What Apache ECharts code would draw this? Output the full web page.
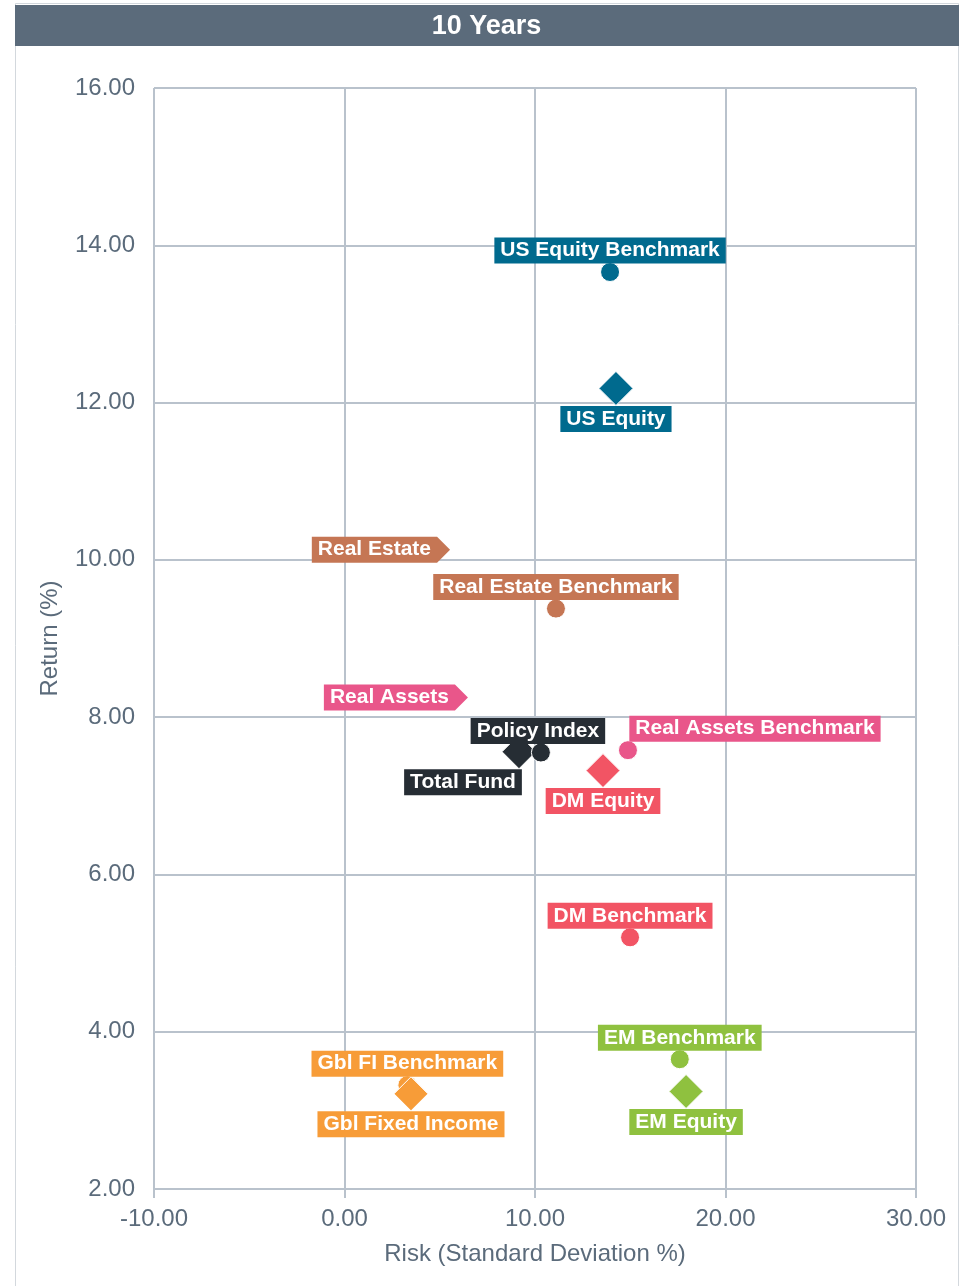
<!DOCTYPE html>
<html>
<head>
<meta charset="utf-8">
<script src="https://cdn.jsdelivr.net/npm/echarts@6/dist/echarts.min.js"></script>
<style>
html,body{margin:0;padding:0;background:#fff;}
#chart{width:961px;height:1286px;}
</style>
</head>
<body>
<div id="chart"></div>
<script>
// ---- data ----
const chartTitle = '10 Years';
const xAxisName = 'Risk (Standard Deviation %)';
const yAxisName = 'Return (%)';

const benchNames  = ['US Equity Benchmark', 'Real Estate Benchmark', 'Real Assets Benchmark', 'DM Benchmark', 'EM Benchmark', 'Gbl FI Benchmark', 'Policy Index'];
const benchRisk   = [13.94, 11.10, 14.88, 14.99, 17.60, 3.30, 10.31];
const benchReturn = [13.66, 9.38, 7.58, 5.20, 3.65, 3.32, 7.55];

const fundNames   = ['US Equity', 'Total Fund', 'DM Equity', 'EM Equity', 'Gbl Fixed Income'];
const fundRisk    = [14.25, 9.16, 13.57, 17.93, 3.49];
const fundReturn  = [12.18, 7.56, 7.32, 3.24, 3.21];

const arrowNames  = ['Real Estate', 'Real Assets'];
const arrowRisk   = [5.54, 6.48];
const arrowReturn = [10.13, 8.25];

// ---- styles ----
const C = {
  us: '#006a8e', re: '#c57654', ra: '#e9568a', dark: '#262d34',
  dm: '#f25464', em: '#8fc13f', gbl: '#f79c38'
};
const colorOf = {
  'US Equity Benchmark': C.us, 'US Equity': C.us,
  'Real Estate Benchmark': C.re, 'Real Estate': C.re,
  'Real Assets Benchmark': C.ra, 'Real Assets': C.ra,
  'Policy Index': C.dark, 'Total Fund': C.dark,
  'DM Benchmark': C.dm, 'DM Equity': C.dm,
  'EM Benchmark': C.em, 'EM Equity': C.em,
  'Gbl FI Benchmark': C.gbl, 'Gbl Fixed Income': C.gbl
};
const labelShift = {
  'Total Fund': -56,
  'Real Assets Benchmark': 127,
  'Policy Index': -3
};
const slate = '#5b6b7b';
const gridColor = '#b9c2cc';
const LBL_FONT = 'Liberation Sans, Arial, sans-serif';

// draw order: funds/benchmarks interleaved so overlaps match
const pts = [];
function addBench(i){
  pts.push({name: benchNames[i], value: [benchRisk[i], benchReturn[i]], kind: 'bench'});
}
function addFund(i){
  pts.push({name: fundNames[i], value: [fundRisk[i], fundReturn[i]], kind: 'fund'});
}
addBench(0); addFund(0); addBench(1); addBench(2); addFund(2); addBench(3);
addBench(4); addFund(3); addBench(5); addFund(4); addFund(1); addBench(6);

const scatterData = pts.map(p => {
  const col = colorOf[p.name];
  const isBench = p.kind === 'bench';
  return {
    name: p.name,
    value: p.value,
    symbol: isBench ? 'circle' : 'diamond',
    symbolSize: isBench ? 19 : 34,
    itemStyle: {color: col, borderColor: '#fff', borderWidth: 1, opacity: 1},
    label: {
      show: true,
      position: isBench ? 'top' : 'bottom',
      distance: isBench ? -1.5 : 0,
      formatter: '{b}',
      color: '#fff',
      fontFamily: LBL_FONT,
      fontWeight: 'bold',
      fontSize: 21,
      lineHeight: 20,
      backgroundColor: col,
      opacity: 1,
      padding: [3, 6, 3, 6]
    }
  };
});

const arrowData = arrowNames.map((n, i) => ({name: n, value: [arrowRisk[i], arrowReturn[i]]}));

const measureCtx = document.createElement('canvas').getContext('2d');
measureCtx.font = 'bold 21px ' + LBL_FONT;

const chart = echarts.init(document.getElementById('chart'), null, {renderer: 'canvas'});
chart.setOption({
  animation: false,
  backgroundColor: '#fff',
  graphic: [
    {type: 'rect', shape: {x: 15.5, y: 3.5, width: 943, height: 1300}, style: {fill: 'none', stroke: '#d3d8dd', lineWidth: 1}, z: 0},
    {type: 'rect', shape: {x: 15, y: 5, width: 944, height: 41}, style: {fill: slate}, z: 1},
    {type: 'text', x: 486.5, y: 27, style: {text: chartTitle, fill: '#fff', font: 'bold 27px Liberation Sans, Arial, sans-serif', align: 'center', verticalAlign: 'middle'}, z: 2}
  ],
  grid: {left: 154, right: 45, top: 88, bottom: 97, containLabel: false},
  xAxis: {
    type: 'value', min: -10, max: 30, interval: 10,
    name: xAxisName, nameLocation: 'middle', nameGap: 53,
    nameTextStyle: {color: slate, fontSize: 24, fontFamily: 'Liberation Sans, Arial, sans-serif'},
    axisLine: {show: true, lineStyle: {color: gridColor, width: 2}},
    axisTick: {show: true, length: 9, lineStyle: {color: gridColor, width: 2}},
    axisLabel: {color: slate, fontSize: 24, margin: 18, fontFamily: 'Liberation Sans, Arial, sans-serif', formatter: v => v.toFixed(2)},
    splitLine: {show: true, lineStyle: {color: gridColor, width: 2}}
  },
  yAxis: {
    type: 'value', min: 2, max: 16, interval: 2,
    name: yAxisName, nameLocation: 'middle', nameGap: 92,
    nameTextStyle: {color: slate, fontSize: 24, fontFamily: 'Liberation Sans, Arial, sans-serif'},
    axisLine: {show: true, lineStyle: {color: gridColor, width: 2}},
    axisTick: {show: true, length: 9, lineStyle: {color: gridColor, width: 2}},
    axisLabel: {color: slate, fontSize: 24, margin: 19, fontFamily: 'Liberation Sans, Arial, sans-serif', formatter: v => v.toFixed(2)},
    splitLine: {show: true, lineStyle: {color: gridColor, width: 2}}
  },
  series: [
    {
      type: 'scatter',
      data: scatterData,
      z: 3,
      emphasis: {disabled: true},
      labelLayout: function (params) {
        const name = pts[params.dataIndex].name;
        const dx = labelShift[name] || 0;
        return {dx: dx};
      }
    },
    {
      type: 'custom',
      data: arrowData,
      z: 4,
      renderItem: function (params, api) {
        const p = api.coord([api.value(0), api.value(1)]);
        const name = arrowNames[params.dataIndex];
        const col = colorOf[name];
        const tw = measureCtx.measureText(name).width;
        const bodyW = tw + 12, tip = 13, h = 13;
        const tx = p[0], ty = p[1];
        const bx = tx - tip - bodyW;
        return {
          type: 'group',
          children: [
            {type: 'polygon', shape: {points: [[bx, ty - h], [tx - tip, ty - h], [tx, ty], [tx - tip, ty + h], [bx, ty + h]]}, style: {fill: col}},
            {type: 'text', x: bx + 6, y: ty, style: {text: name, fill: '#fff', font: 'bold 21px ' + LBL_FONT, align: 'left', verticalAlign: 'middle'}}
          ]
        };
      }
    }
  ]
});
</script>
</body>
</html>
